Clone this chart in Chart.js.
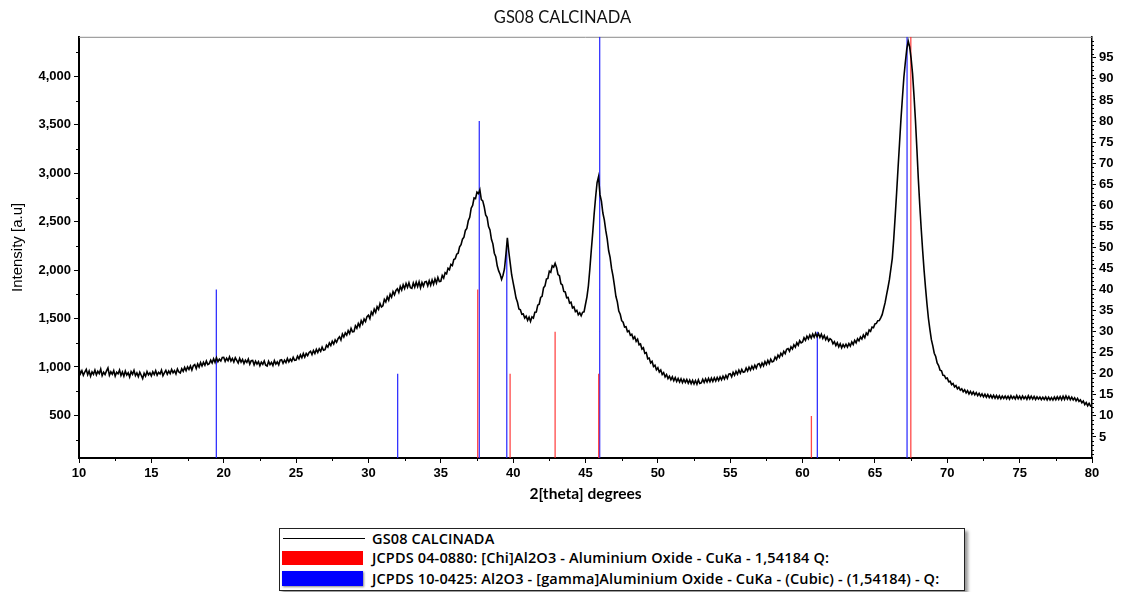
<!DOCTYPE html>
<html lang="es">
<head>
<meta charset="UTF-8">
<title>GS08 CALCINADA</title>
<script src="https://cdn.jsdelivr.net/npm/chart.js"></script>
<style>
  body { margin: 0; background: #fff; }
  #wrap { position: relative; width: 1125px; height: 592px; overflow: hidden; }
  #legend {
    position: absolute; left: 279px; top: 528px; width: 684px; height: 61px;
    border: 1px solid #222; box-shadow: 3px 3px 3px #999; background: #fff;
    font: 600 14.5px "Open Sans", sans-serif; letter-spacing: 0.15px; color: #000;
  }
  #legend .row { position: absolute; left: 0; right: 0; height: 20px; }
  #legend .sw { position: absolute; left: 2px; }
  #legend .txt { position: absolute; left: 92px; top: 0; line-height: 20px; white-space: nowrap; }
</style>
</head>
<body>
<div id="wrap">
  <canvas id="myChart" width="1125" height="512"></canvas>
  <div id="legend">
    <div class="row" style="top:0px"><div class="sw" style="left:3px;top:9px;width:82px;height:1px;background:#000"></div><span class="txt">GS08 CALCINADA</span></div>
    <div class="row" style="top:19px"><div class="sw" style="top:3px;width:81px;height:14px;background:#ff0000"></div><span class="txt">JCPDS 04-0880: [Chi]Al2O3 - Aluminium Oxide - CuKa - 1,54184 Q:</span></div>
    <div class="row" style="top:40px"><div class="sw" style="top:2px;width:81px;height:15px;background:#0000ff;box-shadow:1px 1px 2px #888"></div><span class="txt">JCPDS 10-0425: Al2O3 - [gamma]Aluminium Oxide - CuKa - (Cubic) - (1,54184) - Q:</span></div>
  </div>
</div>

<script>
// patron medido: 10 a 80 grados, paso 0.1 (una fila por grado)
const angleStart = 10;
const angleStep = 0.1;
const intensity = [
  985, 930, 962, 915, 948, 975, 920, 958, 905, 950,            // 10
  925, 968, 918, 955, 932, 978, 910, 945, 922, 960,            // 11
  990, 915, 950, 925, 962, 905, 945, 930, 968, 912,            // 12
  948, 905, 958, 918, 940, 896, 952, 925, 965, 910,            // 13
  938, 900, 946, 915, 880, 935, 905, 952, 918, 940,            // 14
  908, 950, 922, 962, 915, 945, 928, 968, 910, 940,            // 15
  965, 925, 958, 932, 975, 940, 962, 928, 980, 948,            // 16
  938, 982, 955, 995, 962, 1002, 975, 1010, 968, 1012,         // 17
  1025, 985, 1032, 1000, 1045, 1010, 1048, 1018, 1062, 1025,   // 18
  1035, 1070, 1042, 1085, 1048, 1095, 1055, 1080, 1062, 1098,  // 19
  1100, 1058, 1090, 1065, 1105, 1062, 1088, 1052, 1095, 1068,  // 20
  1042, 1088, 1050, 1078, 1035, 1070, 1048, 1082, 1030, 1065,  // 21
  1068, 1022, 1060, 1030, 1055, 1012, 1050, 1028, 1062, 1018,  // 22
  1010, 1058, 1025, 1048, 1015, 1065, 1030, 1052, 1022, 1070,  // 23
  1075, 1038, 1070, 1045, 1088, 1052, 1082, 1060, 1100, 1068,  // 24
  1072, 1112, 1085, 1125, 1095, 1138, 1102, 1140, 1118, 1150,  // 25
  1162, 1128, 1170, 1140, 1182, 1150, 1188, 1162, 1205, 1172,  // 26
  1178, 1225, 1205, 1248, 1222, 1265, 1238, 1280, 1255, 1292,  // 27
  1312, 1278, 1340, 1310, 1352, 1328, 1375, 1345, 1398, 1362,  // 28
  1365, 1425, 1400, 1450, 1418, 1478, 1445, 1495, 1470, 1520,  // 29
  1535, 1500, 1568, 1540, 1598, 1565, 1622, 1595, 1655, 1620,  // 30
  1632, 1698, 1672, 1725, 1690, 1752, 1720, 1778, 1745, 1790,  // 31
  1808, 1770, 1832, 1795, 1848, 1810, 1862, 1822, 1870, 1818,  // 32
  1812, 1868, 1825, 1875, 1830, 1880, 1818, 1872, 1835, 1878,  // 33
  1882, 1838, 1890, 1845, 1898, 1855, 1910, 1868, 1925, 1882,  // 34
  1885, 1945, 1918, 1975, 1962, 2020, 2005, 2060, 2048, 2110,  // 35
  2118, 2165, 2175, 2240, 2262, 2320, 2340, 2410, 2430, 2510,  // 36
  2545, 2640, 2668, 2745, 2738, 2805, 2790, 2830, 2728, 2715,  // 37
  2655, 2570, 2545, 2450, 2415, 2318, 2272, 2175, 2138, 2045,  // 38
  1992, 1958, 1905, 1948, 2012, 2160, 2335, 2190, 2070, 1950,  // 39
  1872, 1795, 1712, 1668, 1598, 1590, 1545, 1548, 1505, 1525,  // 40
  1482, 1515, 1470, 1518, 1505, 1565, 1568, 1638, 1648, 1718,  // 41
  1730, 1818, 1838, 1908, 1915, 1990, 1978, 2045, 2032, 2070,  // 42
  2028, 1955, 1942, 1860, 1848, 1780, 1775, 1715, 1718, 1660,  // 43
  1668, 1610, 1622, 1572, 1585, 1540, 1560, 1528, 1565, 1570,  // 44
  1648, 1725, 1838, 2012, 2205, 2388, 2585, 2755, 2905, 2965,  // 45
  2780, 2712, 2590, 2520, 2410, 2322, 2200, 2132, 2018, 1942,  // 46
  1840, 1730, 1672, 1578, 1545, 1478, 1462, 1412, 1415, 1365,  // 47
  1375, 1328, 1338, 1292, 1312, 1265, 1288, 1230, 1238, 1185,  // 48
  1198, 1140, 1148, 1085, 1092, 1042, 1058, 1005, 1018, 972,   // 49
  992, 948, 968, 922, 942, 898, 922, 880, 905, 868,            // 50
  898, 858, 890, 850, 882, 845, 878, 838, 872, 840,            // 51
  870, 832, 865, 828, 862, 825, 860, 822, 868, 830,            // 52
  835, 872, 840, 878, 845, 882, 848, 885, 850, 888,            // 53
  855, 892, 860, 898, 868, 905, 875, 912, 882, 925,            // 54
  930, 898, 945, 915, 955, 925, 968, 935, 975, 945,            // 55
  950, 990, 958, 998, 968, 1008, 978, 1018, 988, 1028,         // 56
  1035, 1002, 1042, 1012, 1055, 1025, 1068, 1035, 1080, 1052,  // 57
  1060, 1102, 1078, 1122, 1098, 1142, 1118, 1162, 1138, 1182,  // 58
  1190, 1162, 1208, 1185, 1228, 1205, 1250, 1225, 1272, 1248,  // 59
  1258, 1302, 1275, 1318, 1290, 1330, 1298, 1340, 1308, 1348,  // 60
  1312, 1345, 1305, 1338, 1295, 1325, 1282, 1310, 1268, 1292,  // 61
  1280, 1240, 1262, 1222, 1250, 1208, 1240, 1198, 1232, 1205,  // 62
  1235, 1205, 1242, 1215, 1258, 1232, 1275, 1250, 1292, 1270,  // 63
  1310, 1288, 1330, 1302, 1352, 1332, 1382, 1368, 1412, 1405,  // 64
  1445, 1450, 1478, 1480, 1508, 1540, 1602, 1662, 1742, 1818,  // 65
  1902, 2012, 2122, 2322, 2555, 2802, 3060, 3310, 3562, 3780,  // 66
  3992, 4145, 4282, 4365, 4305, 4188, 4030, 3802, 3548, 3252,  // 67
  2938, 2668, 2422, 2198, 1992, 1812, 1645, 1498, 1385, 1282,  // 68
  1218, 1142, 1108, 1042, 1015, 968, 960, 915, 912, 880,       // 69
  885, 848, 852, 818, 830, 795, 808, 775, 792, 760,            // 70
  775, 745, 765, 732, 755, 722, 748, 718, 742, 712,            // 71
  735, 705, 728, 698, 722, 692, 718, 688, 715, 685,            // 72
  710, 680, 708, 678, 705, 675, 702, 672, 700, 675,            // 73
  700, 672, 698, 668, 702, 675, 695, 670, 705, 672,            // 74
  698, 668, 700, 672, 695, 665, 702, 670, 698, 668,            // 75
  695, 665, 692, 668, 690, 662, 688, 665, 690, 660,            // 76
  688, 660, 685, 658, 690, 662, 692, 665, 695, 662,            // 77
  698, 665, 700, 668, 695, 662, 688, 660, 682, 650,            // 78
  675, 645, 660, 630, 648, 612, 632, 600, 625, 595,            // 79
  598                                                          // 80
];

// fichas JCPDS (posicion 2theta, intensidad relativa %)
const chiAngles = [37.55, 39.79, 42.9, 45.91, 60.61, 67.48];
const chiRel = [40, 20, 30, 20, 10, 100];
const gammaAngles = [19.49, 32.02, 37.66, 39.56, 45.98, 61.02, 67.22];
const gammaRel = [40, 20, 80, 50, 100, 30, 100];

const leftTicks = [500, 1000, 1500, 2000, 2500, 3000, 3500, 4000];
const rightTicks = [5, 10, 15, 20, 25, 30, 35, 40, 45, 50, 55, 60, 65, 70, 75, 80, 85, 90, 95];

const pattern = intensity.map(function (v, i) {
  return { x: +(angleStart + i * angleStep).toFixed(2), y: v };
});

function sticks(angles, rel) {
  var pts = [];
  for (var i = 0; i < angles.length; i++) {
    pts.push({ x: angles[i], y: 0 }, { x: angles[i], y: rel[i] }, { x: angles[i], y: null });
  }
  return pts;
}

const tickFont = { family: 'Liberation Sans', size: 13, weight: 'bold' };

// marco superior gris y marcas menores
const frame = {
  id: 'frame',
  beforeDatasetsDraw(chart) {
    const a = chart.chartArea, c = chart.ctx;
    c.save();
    c.strokeStyle = '#8a8a8a';
    c.lineWidth = 1;
    c.beginPath();
    c.moveTo(a.left, a.top + 0.5);
    c.lineTo(a.right, a.top + 0.5);
    c.stroke();
    c.restore();
  },
  afterDraw(chart) {
    const c = chart.ctx, x = chart.scales.x, y = chart.scales.y, y2 = chart.scales.y2;
    c.save();
    c.strokeStyle = '#000';
    c.lineWidth = 1;
    c.beginPath();
    for (var v = 12.5; v < 80; v += 5) {
      var px = Math.round(x.getPixelForValue(v)) + 0.5;
      c.moveTo(px, x.top); c.lineTo(px, x.top + 3);
    }
    for (var w = 250; w < 4400; w += 500) {
      var py = Math.round(y.getPixelForValue(w)) + 0.5;
      c.moveTo(y.right, py); c.lineTo(y.right - 3, py);
    }
    for (var k = 1; k < 100; k++) {
      if (k % 5 === 0) continue;
      var pr = Math.round(y2.getPixelForValue(k)) + 0.5;
      c.moveTo(y2.left, pr); c.lineTo(y2.left + 2, pr);
    }
    c.stroke();
    c.restore();
  }
};

new Chart(document.getElementById('myChart'), {
  type: 'line',
  data: {
    datasets: [
      {
        label: 'GS08 CALCINADA',
        data: pattern,
        borderColor: '#000',
        borderWidth: 1.6,
        pointRadius: 0,
        tension: 0,
        yAxisID: 'y',
        order: 0
      },
      {
        label: 'JCPDS 04-0880',
        data: sticks(chiAngles, chiRel),
        borderColor: 'rgba(255, 40, 40, 0.85)',
        borderWidth: 1.3,
        pointRadius: 0,
        yAxisID: 'y2',
        order: 1
      },
      {
        label: 'JCPDS 10-0425',
        data: sticks(gammaAngles, gammaRel),
        borderColor: 'rgba(30, 30, 255, 0.9)',
        borderWidth: 1.3,
        pointRadius: 0,
        yAxisID: 'y2',
        order: 2
      }
    ]
  },
  options: {
    responsive: false,
    animation: false,
    layout: { padding: 0 },
    plugins: {
      legend: { display: false },
      tooltip: { enabled: false },
      title: {
        display: true,
        text: 'GS08 CALCINADA',
        color: '#111',
        font: { family: 'Lato', size: 16.5, weight: 'normal' },
        padding: { top: 8, bottom: 9 }
      }
    },
    scales: {
      x: {
        type: 'linear',
        min: 10,
        max: 80,
        offset: false,
        ticks: { stepSize: 5, color: '#000', font: tickFont, padding: 3, maxRotation: 0 },
        grid: { drawOnChartArea: false, tickLength: 5, color: '#000' },
        border: { color: '#000', width: 2 },
        title: {
          display: true,
          text: '2[theta] degrees',
          color: '#000',
          font: { family: 'Lato', size: 15.5, weight: 'bold' },
          padding: { top: 0, bottom: 9 }
        },
        afterFit: function (s) { s.height = 54; }
      },
      y: {
        position: 'left',
        min: 60,
        max: 4410,
        afterBuildTicks: function (s) { s.ticks = leftTicks.map(function (v) { return { value: v }; }); },
        ticks: {
          color: '#000', font: tickFont, padding: 3,
          callback: function (v) { return v.toLocaleString('en-US'); }
        },
        grid: { drawOnChartArea: false, tickLength: 5, color: '#000' },
        border: { color: '#000', width: 2 },
        title: {
          display: true,
          text: 'Intensity [a.u]',
          color: '#000',
          font: { family: 'Liberation Sans', size: 15 },
          padding: { top: 9, bottom: 0 }
        },
        afterFit: function (s) { s.width = 79; }
      },
      y2: {
        position: 'right',
        min: 0,
        max: 100,
        afterBuildTicks: function (s) { s.ticks = rightTicks.map(function (v) { return { value: v }; }); },
        ticks: { color: '#000', font: tickFont, padding: 3 },
        grid: { drawOnChartArea: false, tickLength: 4, color: '#000' },
        border: { color: '#000', width: 1.5 },
        afterFit: function (s) { s.width = 33; }
      }
    }
  },
  plugins: [frame]
});
</script>
</body>
</html>
